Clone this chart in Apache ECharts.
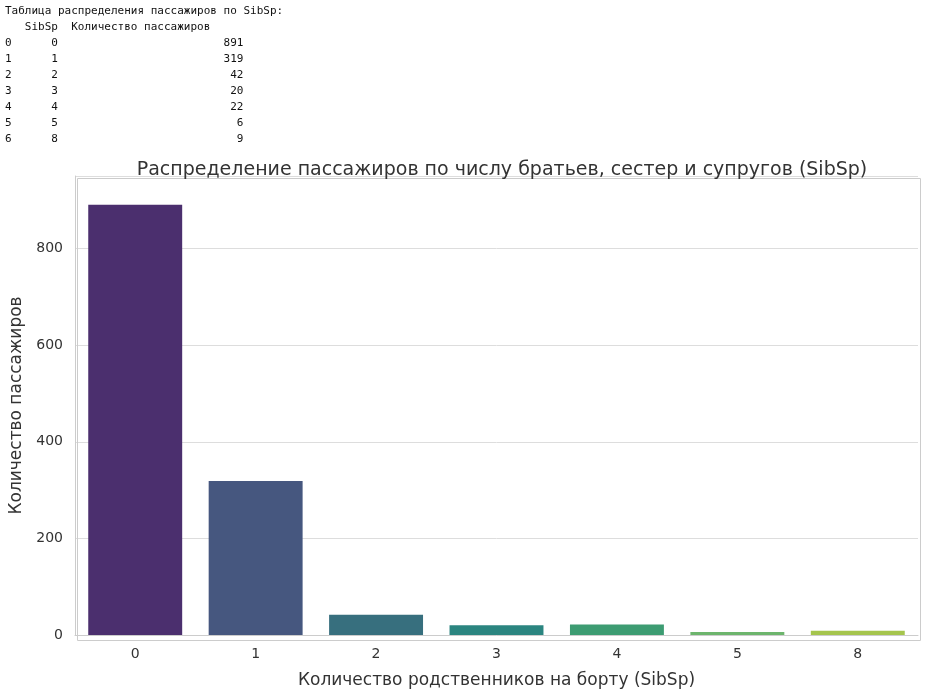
<!DOCTYPE html>
<html><head><meta charset="utf-8">
<script src="https://cdn.jsdelivr.net/npm/echarts@6/dist/echarts.min.js"></script>
<style>
body{margin:0;background:#fff;}
#tbl{position:absolute;left:5px;top:3px;margin:0;font:11px "DejaVu Sans Mono",monospace;line-height:16px;color:#111;}
#c{position:absolute;left:0;top:0;width:947px;height:694px;}
</style></head><body>
<div id="c"></div>
<pre id="tbl"></pre>
<script>
const categories = ['0','1','2','3','4','5','8'];
const counts = [891, 319, 42, 20, 22, 6, 9];
const colors = ['#4b2f6e','#46577f','#376f7e','#2b8580','#3d9c72','#6db56d','#a5c54d'];
const yTicks = [0, 200, 400, 600, 800];

let lines = ['Таблица распределения пассажиров по SibSp:', '   SibSp  Количество пассажиров'];
categories.forEach((c,i)=>{
  lines.push(String(i).padEnd(7) + c.padEnd(6) + String(counts[i]).padStart(23));
});
document.getElementById('tbl').textContent = lines.join('\n');

const chart = echarts.init(document.getElementById('c'));
chart.setOption({
  animation:false,
  title:{text:'Распределение пассажиров по числу братьев, сестер и супругов (SibSp)', left:497, top:156, textAlign:'center',
    textStyle:{fontFamily:'DejaVu Sans',fontSize:19,fontWeight:'normal',color:'#333'}},
  grid:{left:75,right:29,top:176,bottom:56},
  xAxis:{type:'category',data:categories,name:'Количество родственников на борту (SibSp)',nameLocation:'middle',nameGap:37,
    nameTextStyle:{fontFamily:'DejaVu Sans',fontSize:17,color:'#333'},
    axisLine:{lineStyle:{color:'#ccc'}},axisTick:{show:false},
    axisLabel:{fontFamily:'DejaVu Sans',fontSize:14,color:'#333',margin:12}},
  yAxis:{type:'value',min:0,max:yTicks[yTicks.length-1]*1.188,interval:200,name:'Количество пассажиров',nameLocation:'middle',nameGap:48,
    nameTextStyle:{fontFamily:'DejaVu Sans',fontSize:17,color:'#333'},
    axisLine:{show:true,lineStyle:{color:'#ccc'}},axisTick:{show:false},
    axisLabel:{fontFamily:'DejaVu Sans',fontSize:14,color:'#333',margin:12,formatter:v=>yTicks.includes(v)?v:''},
    splitLine:{lineStyle:{color:'#ddd'}}},
  series:[{type:'bar',barWidth:'78%',
    data:counts.map((v,i)=>({value:v,itemStyle:{color:colors[i]}}))}]
});
// frame top/right
chart.setOption({graphic:[{type:'rect',left:75,top:176,shape:{width:843,height:462},style:{fill:'none',stroke:'#ccc',lineWidth:1},silent:true}]});
</script></body></html>
